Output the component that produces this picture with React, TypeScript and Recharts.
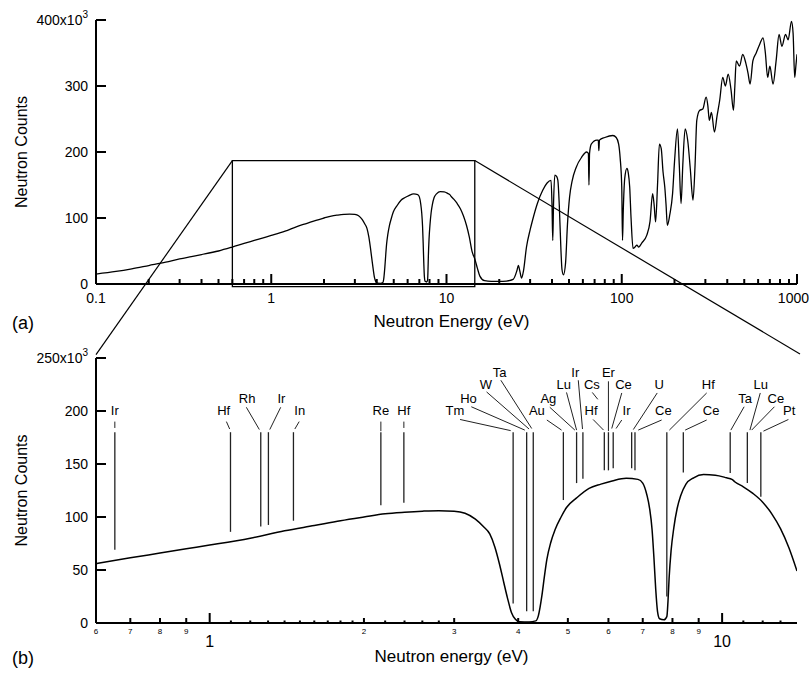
import React from "react";
import { LineChart, Line, XAxis, YAxis, ReferenceLine, ReferenceArea, ReferenceDot, Label } from "recharts";

// spectrum below 0.6 eV, panel (a) only (energy eV, counts x10^3)
const lowEnergy = [0.1, 0.13, 0.16, 0.2, 0.25, 0.3, 0.35, 0.4, 0.5];
const lowCounts = [15, 19, 23, 28, 33, 38, 41.5, 44.5, 50];

// 0.6 - 14 eV, the zoomed region shown in both panels
const zoomEnergy = [
  0.6, 0.7, 0.8, 0.9, 1.0, 1.2, 1.4, 1.6, 1.8, 2.0, 2.2, 2.4, 2.6, 2.8, 3.0, 3.15, 3.3, 3.42, 3.52, 3.6,
  3.68, 3.75, 3.81, 3.88, 3.95, 4.02, 4.2, 4.33, 4.38, 4.45, 4.5, 4.55, 4.63, 4.72, 4.85, 4.97, 5.2, 5.5,
  5.8, 6.1, 6.5, 6.85, 7.0, 7.13, 7.22, 7.3, 7.36, 7.42, 7.48, 7.55, 7.7, 7.8, 7.84, 7.88, 7.95, 8.05,
  8.17, 8.3, 8.5, 8.8, 9.2, 9.7, 10.2, 10.45, 10.6, 11.0, 11.5, 12.0, 12.5, 13.0, 13.5, 14.0,
];
const zoomCounts = [
  56, 61.5, 66, 70, 73.5, 80, 87, 92, 96.5, 100, 103, 104.5, 105.5, 106, 105.5, 103.5, 98, 91, 84, 72,
  55, 38, 24, 10, 3.5, 1.2, 1, 2, 7, 26, 44, 60, 76, 88, 100, 109, 118, 127,
  131, 134, 136.5, 135.5, 132, 121, 108, 88, 62, 32, 11, 4, 3, 6, 20, 42, 68, 90,
  108, 120, 131, 137, 140, 139.5, 137, 135.5, 133, 128.5, 122, 114, 103, 89, 71, 49,
];

// spectrum above 14 eV, panel (a) only
const highEnergy = [
  14.5, 15, 15.5, 16.5, 18, 20, 22, 24, 25.2, 25.7, 26.2, 26.8, 27.5, 28.6, 30, 31, 33, 35.4, 37.5, 39.5,
  40, 40.4, 40.8, 41.5, 42.5, 43.2, 44, 45, 45.6, 46.5, 47.8, 49, 50.4, 52, 55, 59, 63, 64.5, 65, 65.5,
  67, 72, 73.5, 74, 74.6, 80, 89, 93, 96, 98, 100, 101, 102, 104, 107, 109, 111, 113, 116, 119,
  122, 125, 130, 139, 145, 150, 153, 156, 160, 164, 168, 172, 176, 179, 182, 188, 195, 200, 208, 213,
  218, 223, 230, 238, 246, 255, 262, 268, 278, 290, 303, 310, 316, 325, 338, 350, 362, 377, 390, 405,
  420, 434, 442, 450, 470, 490, 510, 525, 540, 560, 585, 612, 640, 660, 680, 700, 730, 760, 790, 820,
  860, 890, 930, 950, 970, 985, 1000,
];
const highCounts = [
  38, 24, 12, 5, 4, 4, 4.5, 7, 20, 28, 20, 9, 20, 56, 82, 97, 122, 142, 153, 157,
  120, 66, 120, 165, 163, 157, 120, 50, 22, 14, 32, 90, 132, 155, 177, 192, 200, 198, 150, 198,
  212, 218, 218, 202, 218, 222, 225, 222, 212, 190, 147, 66, 110, 160, 175, 168, 147, 100, 54, 56,
  59, 56, 62, 74, 95, 137, 120, 94, 150, 212, 205, 170, 147, 120, 89, 105, 137, 185, 235, 180,
  122, 180, 235, 217, 175, 127, 180, 248, 263, 265, 283, 270, 248, 260, 230, 255, 278, 313, 300, 318,
  295, 263, 300, 338, 330, 348, 335, 320, 303, 338, 350, 363, 373, 350, 313, 330, 303, 338, 378, 360,
  378, 370, 398, 380, 313, 330, 348,
];

// resonance markers in panel (b): energy and lower end of each line
const markerEnergy = [
  0.653, 1.098, 1.258, 1.302, 1.457, 2.158, 2.393, 3.91, 4.155, 4.28, 4.9, 5.2, 5.35, 5.89, 6.0, 6.13,
  6.66, 6.76, 7.8, 8.4, 10.37, 11.2, 11.9,
];
const markerLow = [
  69, 86, 91, 92.5, 96.5, 111, 113.5, 18.5, 11, 11, 116, 132, 136, 144, 144, 146,
  146, 144, 25, 142, 141.5, 132, 119,
];
const markerTop = 180;

// element tags: text, position, and leader line from tag to marker
const tagText = [
  "Ir", "Hf", "Rh", "Ir", "In", "Re", "Hf", "Tm", "Ho", "W", "Ta", "Au", "Ag", "Lu", "Ir", "Cs", "Hf",
  "Er", "Ce", "Ir", "U", "Ce", "Hf", "Ce", "Ta", "Lu", "Ce", "Pt",
];
const tagEnergy = [
  0.653, 1.065, 1.183, 1.38, 1.499, 2.158, 2.393, 3.01, 3.2, 3.46, 3.68, 4.35, 4.58, 4.91, 5.17, 5.57, 5.55,
  6.0, 6.42, 6.51, 7.54, 7.68, 9.4, 9.52, 11.09, 11.9, 12.73, 13.52,
];
const tagCounts = [
  196, 196, 208, 208, 196, 196, 196, 196, 208, 220.5, 232.5, 196, 208, 220.5, 232.5, 220.5, 196,
  232.5, 220.5, 196, 220.5, 196, 220.5, 196, 208, 220.5, 208, 196,
];
const leaderFrom = [
  [0.653, 190], [1.078, 190], [1.179, 203.5], [1.376, 203.5], [1.495, 190], [2.158, 190], [2.393, 190],
  [3.08, 192], [3.24, 204], [3.47, 218], [3.7, 229], [4.55, 191.5], [4.61, 203.5], [4.97, 217.5],
  [5.24, 229], [5.58, 217.5], [5.6, 192], [6.0, 228], [6.37, 217], [6.37, 191.5], [7.47, 217],
  [7.62, 191.5], [9.33, 217], [9.33, 191.5], [11.04, 204], [11.87, 217], [12.65, 204], [13.47, 192],
];
const leaderTo = [
  [0.653, 184], [1.094, 183], [1.25, 182.5], [1.31, 182.5], [1.466, 183], [2.158, 181], [2.393, 184],
  [3.867, 181.5], [4.12, 182], [4.2, 183], [4.25, 183.5], [4.86, 182], [5.16, 182], [5.2, 182],
  [5.34, 183], [5.72, 211], [5.87, 182], [6.0, 181], [6.09, 183.5], [6.21, 183.5], [6.71, 182.5],
  [6.86, 182], [7.89, 182], [8.47, 182], [10.4, 182], [11.33, 182], [11.42, 182], [12.04, 181],
];

// axis ticks
const topEnergyTicks = [
  0.1, 0.2, 0.3, 0.4, 0.5, 0.6, 0.7, 0.8, 0.9, 1, 2, 3, 4, 5, 6, 7, 8, 9, 10, 20, 30, 40, 50, 60, 70, 80, 90,
  100, 200, 300, 400, 500, 600, 700, 800, 900, 1000,
];
const topEnergyLabeled = [0.1, 1, 10, 100, 1000];
const topCountTicks = [0, 100, 200, 300, 400];
const bottomEnergyTicks = [
  0.6, 0.7, 0.8, 0.9, 1, 1.1, 1.2, 1.3, 1.4, 1.5, 1.6, 1.7, 1.8, 1.9, 2, 2.2, 2.4, 2.6, 2.8, 3, 4, 5, 6, 7,
  8, 9, 10, 11, 12, 13,
];
const bottomEnergyMajor = [1, 10];
const bottomEnergyLabeled = [0.6, 0.7, 0.8, 0.9, 2, 3, 4, 5, 6, 7, 8, 9];
const bottomCountTicks = [0, 50, 100, 150, 200, 250];

const toRows = (es: number[], cs: number[]) => es.map((e, i) => ({ e, c: cs[i] }));
const topData = [
  ...toRows(lowEnergy, lowCounts),
  ...toRows(zoomEnergy, zoomCounts),
  ...toRows(highEnergy, highCounts),
];
const bottomData = toRows(zoomEnergy, zoomCounts);

const FONT = '"Liberation Sans", Arial, Helvetica, sans-serif';

const TopEnergyTick = ({ x, y, payload }: any) => {
  const v = payload.value;
  const major = topEnergyLabeled.includes(v);
  const last = v === 1000;
  return (
    <g>
      <path d={`M${x},${y}V${y - (major ? 10 : 5)}`} stroke="#000" strokeWidth={2} fill="none" />
      {major && (
        <text x={last ? x + 12 : x} y={y + 19} textAnchor={last ? "end" : "middle"} fontSize={14} fill="#000">
          {v}
        </text>
      )}
    </g>
  );
};

const BottomEnergyTick = ({ x, y, payload }: any) => {
  const v = payload.value;
  const major = bottomEnergyMajor.includes(v);
  const labeled = bottomEnergyLabeled.includes(v);
  const len = major ? 10 : labeled ? 5 : 2.5;
  return (
    <g>
      <path d={`M${x},${y}V${y - len}`} stroke="#000" strokeWidth={2} fill="none" />
      {major && (
        <text x={x} y={y + 24} textAnchor="middle" fontSize={16} fill="#000">
          {v}
        </text>
      )}
      {labeled && (
        <text x={x} y={y + 11} textAnchor="middle" fontSize={8} fill="#000">
          {v < 1 ? Math.round(v * 10) : v}
        </text>
      )}
    </g>
  );
};

const makeCountTick = (maxValue: number) => ({ x, y, payload }: any) => {
  const v = payload.value;
  return (
    <g>
      <path d={`M${x},${y}H${x + 10}`} stroke="#000" strokeWidth={2} fill="none" />
      <text x={x - 8} y={y + 5} textAnchor="end" fontSize={14} fill="#000">
        {v === maxValue ? (
          <>
            <tspan>{v}x10</tspan>
            <tspan dy={-7} fontSize={10}>3</tspan>
          </>
        ) : (
          v
        )}
      </text>
    </g>
  );
};

const energyTitle = (title: string, panel: string, dy: number) => (props: any) => {
  const { x, y, width } = props.viewBox;
  return (
    <g>
      <text x={x + width / 2 + 5} y={y + dy} textAnchor="middle" fontSize={17} fill="#000">
        {title}
      </text>
      <text x={x - 84} y={y + dy + 2} fontSize={18} fill="#000">
        {panel}
      </text>
    </g>
  );
};

const countTitle = (props: any) => {
  const { x, y, width, height } = props.viewBox;
  const cx = x + width - 69;
  const cy = y + height / 2;
  return (
    <text x={cx} y={cy} transform={`rotate(-90 ${cx} ${cy})`} textAnchor="middle" fontSize={16} fill="#000">
      Neutron Counts
    </text>
  );
};

export default function App() {
  return (
    <div style={{ position: "absolute", left: 0, top: 0, width: 809, height: 673, background: "#fff", fontFamily: FONT }}>
      {/* panel (a): full spectrum with zoom box */}
      <div style={{ position: "absolute", left: 0, top: 0 }}>
        <LineChart width={809} height={673} data={topData} margin={{ top: 20, right: 12, bottom: 388, left: 95 }}>
          <XAxis
            dataKey="e"
            type="number"
            scale="log"
            domain={[0.1, 1000]}
            allowDataOverflow
            ticks={topEnergyTicks}
            interval={0}
            height={1}
            tickSize={0}
            tickMargin={0}
            tickLine={false}
            tick={TopEnergyTick}
            axisLine={{ stroke: "#000", strokeWidth: 2 }}
          >
            <Label content={energyTitle("Neutron Energy (eV)", "(a)", 43)} />
          </XAxis>
          <YAxis
            type="number"
            domain={[0, 400]}
            allowDataOverflow
            ticks={topCountTicks}
            interval={0}
            width={1}
            tickSize={0}
            tickMargin={0}
            tickLine={false}
            tick={makeCountTick(400)}
            axisLine={{ stroke: "#000", strokeWidth: 2 }}
          >
            <Label content={countTitle} />
          </YAxis>
          <ReferenceArea x1={0.6} x2={14.5} y1={-4} y2={187} fill="none" stroke="#000" strokeWidth={1.3} ifOverflow="visible" />
          <ReferenceLine segment={[{ x: 0.6, y: 187 }, { x: 0.1, y: -107 }]} stroke="#000" strokeWidth={1.2} ifOverflow="visible" />
          <ReferenceLine segment={[{ x: 14.5, y: 187 }, { x: 1040, y: -106 }]} stroke="#000" strokeWidth={1.2} ifOverflow="visible" />
          <Line dataKey="c" type="monotone" stroke="#000" strokeWidth={1.3} dot={false} isAnimationActive={false} />
        </LineChart>
      </div>

      {/* panel (b): 0.6 - 14 eV with resonance identification */}
      <div style={{ position: "absolute", left: 0, top: 0 }}>
        <LineChart width={809} height={673} data={bottomData} margin={{ top: 358, right: 12, bottom: 49, left: 95 }}>
          <XAxis
            dataKey="e"
            type="number"
            scale="log"
            domain={[0.6, 14]}
            allowDataOverflow
            ticks={bottomEnergyTicks}
            interval={0}
            height={1}
            tickSize={0}
            tickMargin={0}
            tickLine={false}
            tick={BottomEnergyTick}
            axisLine={{ stroke: "#000", strokeWidth: 2 }}
          >
            <Label content={energyTitle("Neutron energy (eV)", "(b)", 39)} />
          </XAxis>
          <YAxis
            type="number"
            domain={[0, 250]}
            allowDataOverflow
            ticks={bottomCountTicks}
            interval={0}
            width={1}
            tickSize={0}
            tickMargin={0}
            tickLine={false}
            tick={makeCountTick(250)}
            axisLine={{ stroke: "#000", strokeWidth: 2 }}
          >
            <Label content={countTitle} />
          </YAxis>
          {markerEnergy.map((e, i) => (
            <ReferenceLine
              key={`m${i}`}
              segment={[{ x: e, y: markerLow[i] }, { x: e, y: markerTop }]}
              stroke="#222"
              strokeWidth={1.3}
              ifOverflow="visible"
            />
          ))}
          {leaderFrom.map((p, i) => (
            <ReferenceLine
              key={`l${i}`}
              segment={[{ x: p[0], y: p[1] }, { x: leaderTo[i][0], y: leaderTo[i][1] }]}
              stroke="#222"
              strokeWidth={1}
              ifOverflow="visible"
            />
          ))}
          {tagText.map((t, i) => (
            <ReferenceDot
              key={`t${i}`}
              x={tagEnergy[i]}
              y={tagCounts[i]}
              r={0}
              ifOverflow="visible"
              shape={(p: any) => (
                <text x={p.cx} y={p.cy} textAnchor="middle" fontSize={13} fill="#000">
                  {t}
                </text>
              )}
            />
          ))}
          <Line dataKey="c" type="monotone" stroke="#000" strokeWidth={1.5} dot={false} isAnimationActive={false} />
        </LineChart>
      </div>
    </div>
  );
}
